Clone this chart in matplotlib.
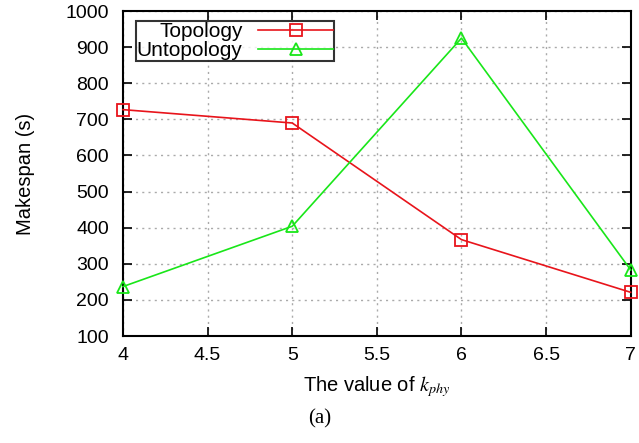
import matplotlib.pyplot as plt
import matplotlib as mpl

k_values = [4, 5, 6, 7]
topology = [727, 690, 367, 221]
untopology = [237, 404, 925, 283]
y_ticks = [100, 200, 300, 400, 500, 600, 700, 800, 900, 1000]
x_ticks = [4, 4.5, 5, 5.5, 6, 6.5, 7]

mpl.rcParams["font.family"] = ["Liberation Sans", "DejaVu Sans"]
mpl.rcParams["mathtext.fontset"] = "stix"


def main():
    fig = plt.figure(figsize=(6.39, 4.43), dpi=100)
    ax = fig.add_axes([0.1925, 0.2415, 0.7945, 0.7335])

    ax.plot(k_values, topology, color="#e8141b", lw=1.2, marker="s", ms=9,
            mfc="none", mew=1.3, label="Topology", clip_on=False, zorder=3)
    ax.plot(k_values, untopology, color="#19e619", lw=1.2, marker="^", ms=9,
            mfc="none", mew=1.3, label="Untopology", clip_on=False, zorder=3)

    ax.set_xlim(4, 7)
    ax.set_ylim(100, 1000)
    ax.set_xticks(x_ticks)
    ax.set_xticklabels(["4", "4.5", "5", "5.5", "6", "6.5", "7"])
    ax.set_yticks(y_ticks)
    ax.tick_params(direction="in", length=6.5, width=1.2, labelsize=14,
                   top=True, right=True)
    ax.tick_params(axis="x", pad=8)
    ax.tick_params(axis="y", pad=10)
    ax.grid(True, ls=(0, (1.5, 3)), color="#aaaaaa", lw=1)
    for s in ax.spines.values():
        s.set_linewidth(1.5)

    ax.set_xlabel("The value of $k_{phy}$", fontsize=14.5, labelpad=7)
    ax.set_ylabel("Makespan (s)", fontsize=14.5, labelpad=22)

    leg = ax.legend(loc="upper left", bbox_to_anchor=(0.017, 0.982),
                    markerfirst=False, fancybox=False, fontsize=15,
                    handlelength=3.6, borderpad=0.05, labelspacing=0.0,
                    handletextpad=0.75, borderaxespad=0.2)
    leg.get_frame().set_edgecolor("black")
    leg.get_frame().set_linewidth(1.5)
    for t in leg.get_texts():
        t.set_ha("right")
    # a bit of extra room on the right of the line samples
    leg._legend_box.sep = 0
    leg.borderpad = 0.05

    fig.text(0.5, 0.055, "(a)", ha="center", va="center", fontsize=15,
             family="Liberation Serif")

    plt.savefig("out.png", dpi=100)


if __name__ == "__main__":
    main()
